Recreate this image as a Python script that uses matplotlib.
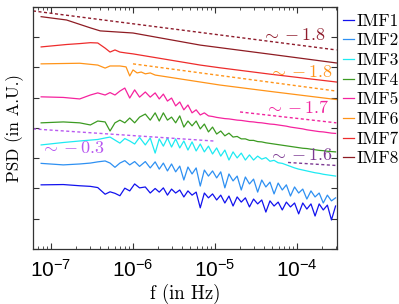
import matplotlib
matplotlib.use("Agg")
import matplotlib.pyplot as plt
import matplotlib.ticker as ticker
import numpy as np

# log10 of frequency (Hz) shared by the noisy modes
log_f_grid = [-7.12, -6.85, -6.65, -6.52, -6.43, -6.34, -6.28, -6.22, -6.16, -6.10,
              -6.04, -5.98, -5.92, -5.85, -5.79, -5.73, -5.68, -5.63, -5.58, -5.53,
              -5.48, -5.43, -5.38, -5.33, -5.28, -5.23, -5.18, -5.13, -5.08, -5.03,
              -4.98, -4.93, -4.88, -4.83, -4.78, -4.73, -4.68, -4.63, -4.58, -4.53,
              -4.48, -4.43, -4.38, -4.33, -4.28, -4.23, -4.18, -4.13, -4.08, -4.03,
              -3.98, -3.93, -3.88, -3.83, -3.78, -3.73, -3.68, -3.63, -3.58, -3.53]

# log10 PSD (shifted, A.U.)
imf1 = [2.12, 2.13, 2.09, 2.07, 2.03, 1.81, 1.89, 1.84, 1.76, 2.01,
        1.92, 2.15, 2.02, 2.05, 1.85, 2.00, 1.88, 2.02, 1.78, 1.98,
        1.85, 1.95, 1.72, 1.92, 1.78, 1.88, 1.36, 1.85, 1.69, 1.82,
        1.62, 1.78, 1.52, 1.75, 1.42, 1.72, 1.55, 1.69, 1.39, 1.65,
        1.49, 1.62, 1.22, 1.59, 1.42, 1.55, 1.29, 1.55, 1.39, 1.52,
        1.16, 1.52, 1.32, 1.49, 1.09, 1.49, 1.29, 1.45, 0.96, 1.42]
imf2 = [2.83, 2.78, 2.81, 2.84, 2.88, 2.91, 2.84, 2.70, 2.84, 2.92,
        2.78, 2.89, 2.73, 2.89, 2.68, 2.88, 2.64, 2.84, 2.58, 2.81,
        2.55, 2.74, 2.28, 2.71, 2.48, 2.68, 2.08, 2.61, 2.41, 2.58,
        2.35, 2.55, 2.02, 2.48, 2.25, 2.41, 1.95, 2.38, 2.15, 2.31,
        1.88, 2.28, 2.05, 2.21, 1.82, 2.18, 1.95, 2.12, 1.75, 2.05,
        1.85, 1.98, 1.65, 1.92, 1.72, 1.85, 1.52, 1.78, 1.59, 1.69]
imf3 = [3.44, 3.52, 3.57, 3.60, 3.62, 3.67, 3.70, 3.60, 3.50, 3.65,
        3.57, 3.47, 3.69, 3.44, 3.67, 3.17, 3.64, 3.40, 3.67, 3.37,
        3.64, 3.34, 3.57, 3.27, 3.54, 3.24, 3.47, 3.21, 3.40, 3.14,
        3.34, 3.07, 3.27, 2.94, 3.21, 3.01, 3.17, 2.94, 3.11, 2.94,
        3.07, 2.97, 3.02, 2.90, 2.93, 2.85, 2.83, 2.78, 2.73, 2.68,
        2.64, 2.61, 2.58, 2.55, 2.52, 2.50, 2.47, 2.45, 2.43, 2.41]
imf4 = [4.17, 4.20, 4.17, 4.10, 4.23, 4.20, 3.90, 4.17, 4.26, 4.17,
        4.33, 4.17, 4.36, 4.46, 4.26, 4.50, 4.23, 4.50, 4.26, 4.36,
        4.17, 4.40, 4.03, 4.23, 4.07, 4.23, 3.97, 4.13, 3.87, 4.03,
        3.80, 3.90, 3.74, 3.83, 3.70, 3.72, 3.64, 3.64, 3.59, 3.59,
        3.55, 3.54, 3.51, 3.49, 3.47, 3.45, 3.43, 3.41, 3.39, 3.37,
        3.35, 3.33, 3.32, 3.30, 3.28, 3.26, 3.25, 3.23, 3.22, 3.21]
imf5 = [5.03, 5.01, 4.96, 5.09, 5.16, 5.09, 5.17, 5.09, 5.22, 5.32,
        4.99, 5.26, 5.02, 5.19, 5.02, 5.16, 4.96, 5.12, 4.89, 4.99,
        4.73, 4.86, 4.60, 4.76, 4.50, 4.60, 4.43, 4.50, 4.40, 4.38,
        4.35, 4.33, 4.31, 4.30, 4.28, 4.26, 4.25, 4.23, 4.21, 4.20,
        4.18, 4.17, 4.15, 4.13, 4.12, 4.10, 4.08, 4.06, 4.03, 4.01,
        3.99, 3.97, 3.94, 3.92, 3.90, 3.88, 3.87, 3.85, 3.83, 3.82]

imf6_log_f = [-7.12, -6.65, -6.43, -6.34, -6.28, -6.16, -6.085, -6.04, -6.00,
              -5.95, -5.90, -5.85, -5.79, -5.73, -5.18, -4.94, -4.33, -3.52]
imf6 = [6.12, 6.14, 6.08, 5.98, 6.05, 6.05, 6.02, 5.72, 5.92,
        5.82, 5.85, 5.79, 5.82, 5.75, 5.52, 5.42, 5.21, 4.94]
imf7_log_f = [-7.12, -6.81, -6.65, -6.52, -6.43, -6.34, -6.28, -6.22,
              -6.16, -6.085, -6.00, -5.18, -4.94, -4.33, -3.52]
imf7 = [6.68, 6.76, 6.79, 6.82, 6.81, 6.64, 6.51, 6.58,
        6.51, 6.48, 6.45, 6.08, 5.99, 5.78, 5.52]
imf8_log_f = [-7.12, -6.81, -6.52, -6.40, -6.00, -5.18, -4.33, -3.52]
imf8 = [7.68, 7.57, 7.31, 7.21, 7.14, 6.74, 6.44, 6.15]

labels = ["IMF1", "IMF2", "IMF3", "IMF4", "IMF5", "IMF6", "IMF7", "IMF8"]
colors = ["#1212EE", "#2E90F2", "#1EEAF2", "#3C9B22",
          "#F5239E", "#FF9419", "#EE2C2C", "#8E1C23"]

# power-law guides: (log f ends, log PSD ends, slope text)
fit_log_f = [[-7.22, -3.52], [-6.00, -3.52], [-4.695, -3.52], [-7.22, -5.02], [-4.11, -3.52]]
fit_log_psd = [[7.87, 6.58], [6.12, 5.22], [4.53, 4.17], [3.97, 3.57], [2.86, 2.76]]
fit_text = [r"$\sim -1.8$", r"$\sim -1.8$", r"$\sim -1.7$", r"$\sim -0.3$", r"$\sim -1.6$"]
fit_colors = ["#8E1C2C", "#FF9419", "#F0239E", "#B858F0", "#7D3A93"]
text_pos = [(-4.04, 7.07), (-3.96, 5.85), (-4.00, 4.69), (-6.74, 3.34), (-3.96, 3.11)]

plt.rcParams["font.family"] = "cmr10"
plt.rcParams["axes.unicode_minus"] = False

fig = plt.figure(figsize=(3.99, 3.04), dpi=100)
ax = fig.add_axes([0.0827, 0.181, 0.7612, 0.796])

f_grid = 10 ** np.array(log_f_grid)
noisy = [imf1, imf2, imf3, imf4, imf5]
for i, vals in enumerate(noisy):
    ax.plot(f_grid, 10 ** np.array(vals), color=colors[i], lw=0.9, label=labels[i])
smooth = [(imf6_log_f, imf6), (imf7_log_f, imf7), (imf8_log_f, imf8)]
for j, (lf, vals) in enumerate(smooth):
    ax.plot(10 ** np.array(lf), 10 ** np.array(vals), color=colors[5 + j], lw=0.9,
            label=labels[5 + j])

for lf, lp, c in zip(fit_log_f, fit_log_psd, fit_colors):
    ax.plot(10 ** np.array(lf), 10 ** np.array(lp), color=c, lw=1.0,
            dashes=(2.2, 1.8))
for (tx, ty), s, c in zip(text_pos, fit_text, fit_colors):
    ax.text(10 ** tx, 10 ** ty, s, color=c, fontsize=13, ha="center", va="center",
            math_fontfamily="cm")

ax.set_xscale("log")
ax.set_yscale("log")
ax.set_xlim(10 ** -7.2195, 10 ** -3.516)
ax.set_ylim(1, 1e8)
ax.set_xticks([1e-7, 1e-6, 1e-5, 1e-4])
ax.xaxis.set_major_formatter(ticker.FuncFormatter(
    lambda v, p: r"$\mathregular{10^{%d}}$" % round(np.log10(v))))
ax.xaxis.set_minor_formatter(ticker.NullFormatter())
ax.set_yticks(10.0 ** np.arange(0, 9))
ax.yaxis.set_major_formatter(ticker.NullFormatter())
ax.yaxis.set_minor_locator(ticker.NullLocator())
ax.tick_params(which="both", direction="in", top=True, right=True, color="#333333")
ax.tick_params(which="major", length=4, width=0.8)
ax.tick_params(which="minor", length=2.5, width=0.6)
ax.tick_params(axis="x", labelsize=15, pad=7, labelfontfamily="Liberation Sans")
for sp in ax.spines.values():
    sp.set_color("#333333")
    sp.set_linewidth(0.9)

ax.set_xlabel("f (in Hz)", fontsize=13.5, labelpad=2)
ax.set_ylabel("PSD (in A.U.)", fontsize=12.3, labelpad=3)

ax.legend(loc="upper left", bbox_to_anchor=(1.01, 0.988), frameon=False, fontsize=12.5,
          handlelength=0.6, handletextpad=0.15, labelspacing=0.25, borderpad=0.2,
          borderaxespad=0)

fig.savefig("out.png", dpi=100)
